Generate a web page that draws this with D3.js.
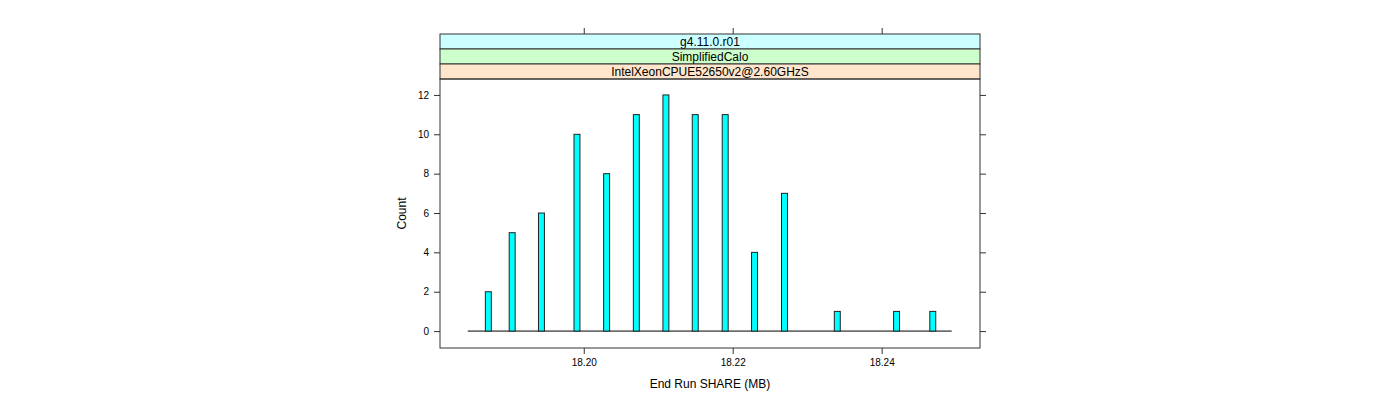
<!DOCTYPE html>
<html><head><meta charset="utf-8">
<script src="https://cdn.jsdelivr.net/npm/d3@7"></script>
<style>body{margin:0;background:#fff;}svg{display:block;font-family:"Liberation Sans",Arial,sans-serif;}</style>
</head><body>
<svg id="c" width="1400" height="400"></svg>
<script>
const binCenters = [18.18719,18.19039,18.19432,18.19909,18.20307,18.20706,18.21103,18.21497,18.21899,18.22293,18.22695,18.23404,18.24200,18.24686];
const counts = [2,5,6,10,8,11,12,11,11,4,7,1,1,1];
const binWidth = 0.0008;
const histRange = [18.18443, 18.24940];
const xDomain = [18.1807, 18.2532];
const yDomain = [-0.86, 12.81];
const xTicks = [18.20, 18.22, 18.24];
const yTicks = [0,2,4,6,8,10,12];
const strips = ["g4.11.0.r01","SimplifiedCalo","IntelXeonCPUE52650v2@2.60GHzS"];
const stripColors = ["#ccffff","#ccffcc","#ffe5cc"];

const svg = d3.select("#c");
const L=440, R=980, T=79, B=348, stripH=15;
const x = d3.scaleLinear().domain(xDomain).range([L,R]);
const y = d3.scaleLinear().domain(yDomain).range([B,T]);
const axCol = "#333";

// strips (top to bottom)
strips.forEach((s,i)=>{
  const top = T - stripH*(strips.length - i);
  svg.append("rect").attr("x",L).attr("y",top).attr("width",R-L).attr("height",stripH)
    .attr("fill",stripColors[i]).attr("stroke",axCol).attr("stroke-width",1);
  svg.append("text").attr("x",(L+R)/2).attr("y",top+stripH/2+4).attr("text-anchor","middle")
    .attr("font-size",12).attr("fill","#000").text(s);
});

// panel
svg.append("rect").attr("x",L).attr("y",T).attr("width",R-L).attr("height",B-T)
  .attr("fill","none").attr("stroke",axCol).attr("stroke-width",1);

// axes
const fmt = d3.format(".2f");
const bottom = svg.append("g").attr("transform",`translate(0,${B})`)
  .call(d3.axisBottom(x).tickValues(xTicks).tickFormat(fmt).tickSize(6).tickPadding(5));
const topAx = svg.append("g").attr("transform",`translate(0,${T - stripH*strips.length})`)
  .call(d3.axisTop(x).tickValues(xTicks).tickFormat("").tickSize(6));
const left = svg.append("g").attr("transform",`translate(${L},0)`)
  .call(d3.axisLeft(y).tickValues(yTicks).tickSize(6).tickPadding(5));
const right = svg.append("g").attr("transform",`translate(${R},0)`)
  .call(d3.axisRight(y).tickValues(yTicks).tickFormat("").tickSize(6));
[bottom,topAx,left,right].forEach(g=>{
  g.select(".domain").remove();
  g.selectAll("line").attr("stroke",axCol);
  g.selectAll("text").attr("font-size",10).attr("fill","#000").attr("font-family","Liberation Sans, Arial, sans-serif");
});

// baseline
svg.append("line").attr("x1",x(histRange[0])).attr("x2",x(histRange[1]))
  .attr("y1",y(0)).attr("y2",y(0)).attr("stroke","#000").attr("stroke-width",1);

// bars
svg.append("g").selectAll("rect").data(binCenters).join("rect")
  .attr("x",(d)=>x(d-binWidth/2)).attr("width",(d)=>x(d+binWidth/2)-x(d-binWidth/2))
  .attr("y",(d,i)=>y(counts[i])).attr("height",(d,i)=>y(0)-y(counts[i]))
  .attr("fill","#00ffff").attr("stroke","#222").attr("stroke-width",1);

// labels
svg.append("text").attr("x",(L+R)/2).attr("y",388).attr("text-anchor","middle")
  .attr("font-size",12).text("End Run SHARE (MB)");
svg.append("text").attr("transform",`translate(406,${(T+B)/2}) rotate(-90)`).attr("text-anchor","middle")
  .attr("font-size",12).text("Count");
</script>
</body></html>
